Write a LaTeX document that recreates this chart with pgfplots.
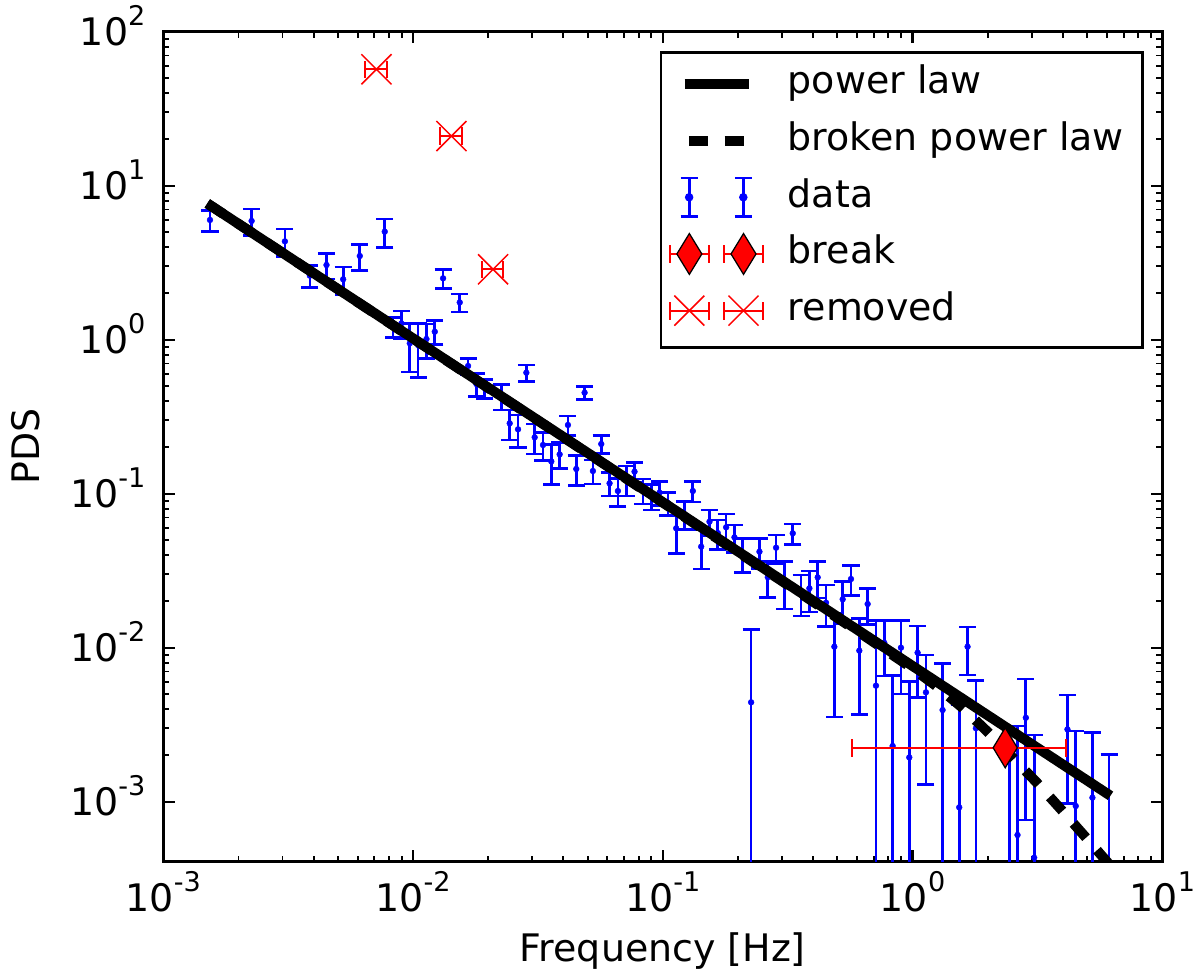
\documentclass[border=0pt]{standalone}
\usepackage{pgfplots}
\pgfplotsset{compat=1.18}
\usepackage{pgfplotstable}
\usepackage{fontspec}
\setmainfont{DejaVu Sans}
\newcommand{\bigf}{\fontsize{18.2bp}{21.8bp}\selectfont}
\newcommand{\tenpow}[1]{10\raisebox{9.6bp}{\fontsize{13bp}{15bp}\selectfont #1}}

\pgfplotstableread{
f y ep em
0.0015377 5.99 0.93 0.93
0.0022571 5.90 1.16 1.16
0.0030673 4.35 0.88 0.88
0.0038617 2.605 0.42 0.42
0.0045021 3.055 0.58 0.58
0.0052493 2.466 0.50 0.50
0.0061205 3.495 0.67 0.67
0.007703 5.03 1.05 1.05
0.008322 1.214 0.183 0.183
0.008986 1.277 0.26 0.26
0.009703 0.947 0.33 0.33
0.010477 0.922 0.356 0.356
0.011313 1.01 0.253 0.253
0.012216 1.127 0.20 0.20
0.013190 2.503 0.36 0.36
0.015379 1.746 0.235 0.235
0.016606 0.675 0.082 0.082
0.017931 0.516 0.089 0.089
0.019361 0.4845 0.0685 0.0685
0.022574 0.431 0.082 0.082
0.024375 0.2863 0.063 0.063
0.026320 0.2618 0.0625 0.0625
0.028420 0.6107 0.074 0.074
0.030687 0.2323 0.051 0.051
0.033136 0.2071 0.042 0.042
0.035779 0.162 0.047 0.047
0.038634 0.180 0.0345 0.0345
0.041703 0.2793 0.040 0.040
0.045030 0.1447 0.032 0.032
0.048623 0.4529 0.043 0.043
0.052502 0.1404 0.025 0.025
0.056691 0.2103 0.028 0.028
0.061214 0.1168 0.020 0.020
0.066098 0.1041 0.0217 0.0217
0.071371 0.124 0.0274 0.0274
0.077065 0.139 0.020 0.020
0.083214 0.1052 0.0195 0.0195
0.08986 0.0963 0.018 0.018
0.09703 0.1016 0.018 0.018
0.10477 0.0871 0.0148 0.0148
0.11313 0.0596 0.0188 0.0188
0.12216 0.0737 0.015 0.015
0.13190 0.1041 0.0156 0.0156
0.14243 0.0453 0.0128 0.0128
0.15379 0.0658 0.0126 0.0126
0.16606 0.0555 0.012 0.012
0.17931 0.0605 0.0132 0.0132
0.19361 0.0521 0.0105 0.0105
0.20906 0.041 0.0103 0.0103
0.22574 0.00442 0.00874 0.00441
0.24375 0.0420 0.0093 0.0093
0.26320 0.0287 0.0075 0.0075
0.28420 0.0446 0.0093 0.0093
0.30687 0.027 0.0092 0.0092
0.33136 0.0553 0.0083 0.0083
0.35779 0.0229 0.0068 0.0068
0.38634 0.02429 0.0072 0.0072
0.41703 0.02863 0.0076 0.0076
0.45030 0.0196 0.0059 0.0059
0.48623 0.01015 0.0066 0.0066
0.52502 0.02062 0.0062 0.0062
0.56691 0.02793 0.0062 0.0062
0.61214 0.00957 0.0059 0.0059
0.66098 0.01922 0.0051 0.0051
0.71371 0.00567 0.0093 0.00566
0.77065 0.01076 0.0042 0.0042
0.83214 0.0023 0.0043 0.00229
0.8986 0.0100 0.0050 0.0050
0.9703 0.00194 0.0041 0.00193
1.0477 0.00928 0.00455 0.00455
1.1313 0.00513 0.00384 0.00384
1.3190 0.00394 0.00398 0.00393
1.5379 0.000919 0.00333 0.000909
1.6606 0.01015 0.0035 0.0035
1.7931 0.0030 0.0031 0.00299
2.4375 0.0003 0.0028 0.00029
2.6320 0.000608 0.0025 0.000598
2.8420 0.00351 0.00275 0.00275
3.0687 0.000433 0.00228 0.000423
4.1703 0.00295 0.00198 0.00198
4.5030 0.000938 0.00194 0.000928
5.2502 0.001062 0.00175 0.001052
6.1214 0.0002 0.00183 0.00019
}\datatab

\pgfplotstableread{
f y xe
0.007136 57.0 0.1
0.014243 21.0 0.1
0.020906 2.865 0.1
}\remtab

\begin{document}
\begin{tikzpicture}
\begin{axis}[
  at={(0,0)}, anchor=south west,
  scale only axis, width=479.5bp, height=398.4bp,
  xmode=log, ymode=log,
  xmin=1e-3, xmax=10, ymin=4.08e-4, ymax=100,
  xtick={1e-3,1e-2,1e-1,1,10},
  xticklabels={\tenpow{-3},\tenpow{-2},\tenpow{-1},\tenpow{0},\tenpow{1}},
  ytick={1e-3,1e-2,1e-1,1,10,100},
  yticklabels={\tenpow{-3},\tenpow{-2},\tenpow{-1},\tenpow{0},\tenpow{1},\tenpow{2}},
  tick align=inside,
  major tick length=5.6bp, minor tick length=2.9bp,
  major tick style={line width=1.1bp, black},
  minor tick style={line width=0.9bp, black},
  axis line style={line width=1.2bp},
  tick label style={font=\bigf},
  xticklabel style={anchor=base, inner sep=0pt, yshift=-24bp},
  yticklabel style={anchor=base east, inner sep=0pt, xshift=-8.4bp, yshift=-6.6bp},
  xlabel={Frequency [Hz]}, ylabel={PDS},
  label style={font=\bigf},
  xlabel style={at={(axis description cs:0.5,-0.1197)}, anchor=base, inner sep=0pt},
  ylabel style={at={(axis description cs:-0.1241,0.5)}, anchor=base, inner sep=0pt},
  clip marker paths=true,
  legend cell align=left,
  legend style={at={(1,1)}, anchor=north east, xshift=-8.8bp, yshift=-9.3bp,
    draw=black, line width=1.2bp, fill=white, inner xsep=3.8bp, inner ysep=4.7bp,
    row sep=6.2bp, column sep=11.5bp, font=\bigf,
    nodes={draw=none, fill=none, inner xsep=0pt, inner ysep=1.4bp, text height=13.8bp, text depth=4.4bp}},
]
% data
\addplot[forget plot, only marks, blue, mark=*, mark size=1.4bp,
  mark options={draw=blue, fill=blue, line width=0.2bp},
  error bars/.cd, y dir=both, y explicit,
  error bar style={line width=1.3bp, blue},
  error mark options={rotate=90, mark size=4.1bp, line width=1.3bp, blue}]
  table[x=f, y=y, y error plus=ep, y error minus=em] {\datatab};
% power law
\addplot[forget plot, black, line width=4.8bp] coordinates {(0.0015,7.67) (6.2,0.001093)};
% broken power law
\addplot[forget plot, black, line width=4.8bp, dash pattern=on 9.1bp off 8bp] coordinates {
(0.0015,7.67) (0.1,0.0875) (0.3162,0.02559) (0.631,0.01216) (1.0,0.00733)
(1.259,0.00556) (1.585,0.00407) (1.995,0.00285) (2.512,0.00194) (3.162,0.001318)
(3.981,0.000871) (5.012,0.000571) (6.31,0.000372)};
% removed
\addplot[forget plot, only marks, red, mark=x, mark size=10.2bp,
  mark options={red, line width=0.7bp},
  error bars/.cd, x dir=both, x explicit relative,
  error bar style={line width=1bp, red},
  error mark options={rotate=90, mark size=4.2bp, line width=1bp, red}]
  table[x=f, y=y, x error=xe] {\remtab};
% break
\addplot[forget plot, only marks, red, mark=diamond*, mark size=9.6bp,
  mark options={fill=red, draw=black, line width=0.6bp, xscale=0.806},
  error bars/.cd, x dir=both, x explicit,
  error bar style={line width=1bp, red},
  error mark options={rotate=90, mark size=4.2bp, line width=1bp, red}]
  coordinates {(2.35,0.00224) += (1.76,0) -= (1.78,0)};

% legend
\addlegendimage{legend image code/.code={
  \path[draw=none, fill=none] (0bp,-10.5bp) rectangle (45bp,10.5bp);
  \draw[black, line width=4.8bp] (7.2bp,0bp) -- (37.9bp,0bp);}}
\addlegendentry{power law}
\addlegendimage{legend image code/.code={
  \path[draw=none, fill=none] (0bp,-10.5bp) rectangle (45bp,10.5bp);
  \draw[black, line width=4.8bp] (9.3bp,0bp) -- (18.4bp,0bp) (26.4bp,0bp) -- (35.5bp,0bp);}}
\addlegendentry{broken power law\hspace*{5.2bp}}
\addlegendimage{legend image code/.code={
  \path[draw=none, fill=none] (0bp,-10.5bp) rectangle (45bp,10.5bp);
  \foreach \xx in {9.4,35.4}{
    \draw[blue, line width=1.3bp] (\xx bp,-9.2bp) -- (\xx bp,9.2bp)
      (\xx bp-4.1bp,-9.2bp) -- (\xx bp+4.1bp,-9.2bp)
      (\xx bp-4.1bp,9.2bp) -- (\xx bp+4.1bp,9.2bp);
    \fill[blue] (\xx bp,0bp) circle (1.4bp);}}}
\addlegendentry{data}
\addlegendimage{legend image code/.code={
  \path[draw=none, fill=none] (0bp,-10.5bp) rectangle (45bp,10.5bp);
  \foreach \xx in {9.5,35.5}{
    \draw[red, line width=1bp] (\xx bp-9.3bp,0bp) -- (\xx bp+9.3bp,0bp)
      (\xx bp-9.3bp,-4.3bp) -- (\xx bp-9.3bp,4.3bp)
      (\xx bp+9.3bp,-4.3bp) -- (\xx bp+9.3bp,4.3bp);
    \filldraw[fill=red, draw=black, line width=0.6bp] (\xx bp,9.8bp) -- (\xx bp+6bp,0bp) -- (\xx bp,-9.8bp) -- (\xx bp-6bp,0bp) -- cycle;}}}
\addlegendentry{break}
\addlegendimage{legend image code/.code={
  \path[draw=none, fill=none] (0bp,-12.9bp) rectangle (45bp,10.5bp);
  \foreach \xx in {9.5,35.5}{
    \draw[red, line width=1bp] (\xx bp-9.3bp,0bp) -- (\xx bp+9.3bp,0bp)
      (\xx bp-9.3bp,-4.3bp) -- (\xx bp-9.3bp,4.3bp)
      (\xx bp+9.3bp,-4.3bp) -- (\xx bp+9.3bp,4.3bp);
    \draw[red, line width=0.7bp] (\xx bp-7.2bp,-7.2bp) -- (\xx bp+7.2bp,7.2bp)
      (\xx bp-7.2bp,7.2bp) -- (\xx bp+7.2bp,-7.2bp);}}}
\addlegendentry{removed}
\end{axis}
\pgfresetboundingbox
\useasboundingbox (-78.4bp,-56.3bp) rectangle (497.6bp,413.6bp);
\end{tikzpicture}
\end{document}
